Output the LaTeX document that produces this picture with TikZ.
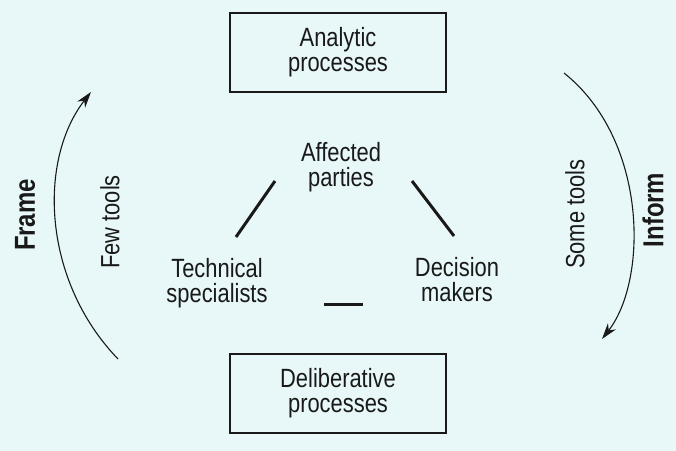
\documentclass[tikz,border=0pt]{standalone}
\usepackage{fontspec}
\setmainfont{Liberation Sans}[FakeStretch=0.83]
\usetikzlibrary{arrows.meta}
\definecolor{bg}{RGB}{232,248,248}
\definecolor{ink}{RGB}{25,25,25}
\begin{document}
\begin{tikzpicture}[x=1bp,y=-1bp,
  box/.style={draw=ink, line width=1.6bp, minimum width=216bp, minimum height=79bp, inner sep=0pt, align=center, font=\fontsize{26.5}{25}\selectfont, text=ink},
  lbl/.style={align=center, font=\fontsize{26.5}{25}\selectfont, text=ink, inner sep=0pt},
  side/.style={font=\fontsize{26.5}{25}\selectfont, text=ink, inner sep=0pt, rotate=90},
  big/.style={font=\fontsize{29}{29}\selectfont\bfseries, text=ink, inner sep=0pt, rotate=90},
  tie/.style={draw=ink, line width=3bp},
  cyc/.style={draw=ink, line width=1.1bp, -{Stealth[length=16bp,width=10bp,inset=5bp]}}
]
\fill[bg] (0,0) rectangle (676,451);
\useasboundingbox (0,0) rectangle (676,451);

\node[box] (ana) at (338,52.5) {Analytic\\processes};
\node[box] (del) at (338,393.5) {Deliberative\\processes};

\node[lbl] (aff) at (341,167.5) {Affected\\parties};
\node[lbl] (tec) at (217,283) {Technical\\specialists};
\node[lbl] (dec) at (457,280) {Decision\\makers};

\coordinate (l1) at (275,181); \coordinate (l2) at (236,237);
\coordinate (r1) at (412,181); \coordinate (r2) at (454,236);
\coordinate (b1) at (324,305); \coordinate (b2) at (363,305);
\draw[tie] (l1) -- (l2);
\draw[tie] (r1) -- (r2);
\draw[tie] (b1) -- (b2);

\coordinate (fs) at (118,359); \coordinate (fe) at (91,92);
\coordinate (is) at (564,73); \coordinate (ie) at (602,339);
\draw[cyc] (fs) .. controls (42,280) and (38,160) .. (fe);
\draw[cyc] (is) .. controls (648,140) and (648,280) .. (ie);

\node[big] (frame) at (25,215) {Frame};
\node[side] (few) at (110,222) {Few tools};
\node[side] (some) at (575,214) {Some tools};
\node[big] (inform) at (653,210) {Inform};
\end{tikzpicture}
\end{document}
